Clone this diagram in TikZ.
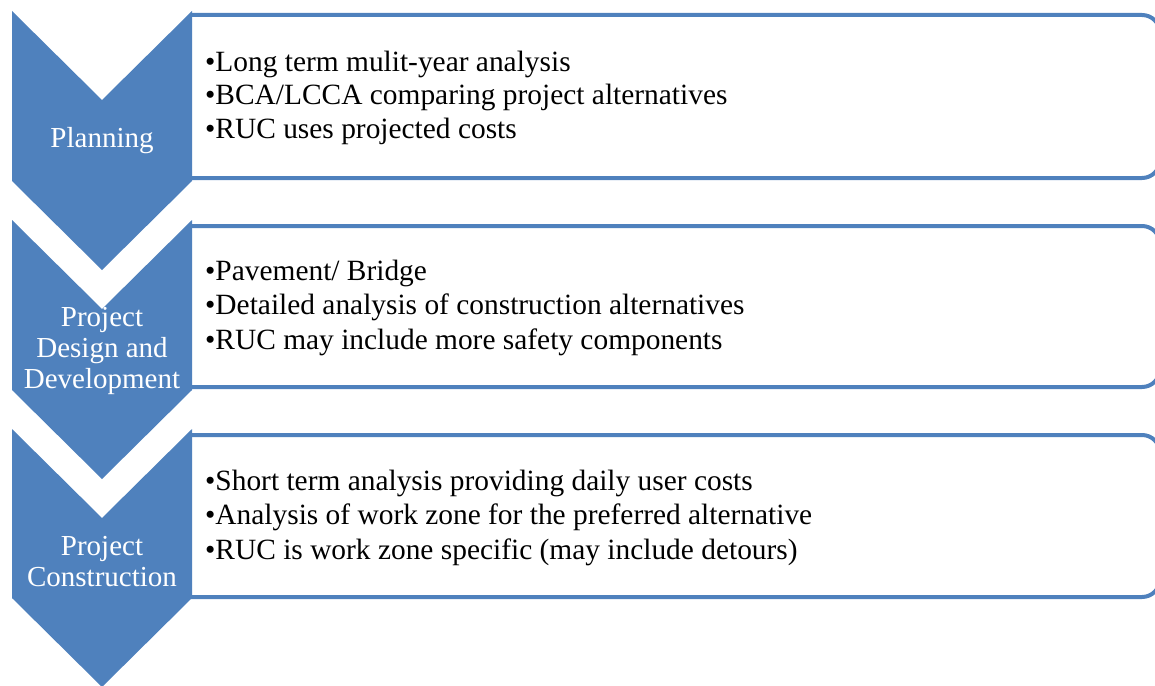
\documentclass[tikz,border=0pt]{standalone}
\usepackage{fontspec}
\setmainfont{Liberation Serif}
\newfontfamily\timesfont{Liberation Serif}
\definecolor{ofblue}{HTML}{4F81BD}
\begin{document}
\begin{tikzpicture}[x=1pt,y=-1pt,
  chev/.style={fill=ofblue,draw=none},
  infobox/.style={draw=ofblue,line width=4pt,fill=white,rounded corners=18pt},
  bul/.style={anchor=base west,inner sep=0pt,font=\timesfont\fontsize{29.4}{34}\selectfont},
  lab/.style={align=center,text=white,inner sep=0pt,font=\timesfont\fontsize{29}{31}\selectfont}]
\useasboundingbox (0,0) rectangle (1155,685);
\begin{scope}
\clip (0,0) rectangle (1155,685);
% boxes (left side hidden behind chevrons)
\path[infobox] (190,15) -- (1160,15) -- (1160,178) -- (190,178);
\path[infobox] (190,226) -- (1160,226) -- (1160,387) -- (190,387);
\path[infobox] (190,435) -- (1160,435) -- (1160,597) -- (190,597);
% chevrons
\fill[chev] (12,11) -- (102,100) -- (192,11) -- (192,181) -- (102,270) -- (12,181) -- cycle;
\fill[chev] (12,220) -- (102,309) -- (192,220) -- (192,390) -- (102,479) -- (12,390) -- cycle;
\fill[chev] (12,429) -- (102,518) -- (192,429) -- (192,598) -- (102,687) -- (12,598) -- cycle;
\end{scope}
% chevron labels
\node[lab] (l1) at (102,141) {Planning};
\node[lab] (l2) at (102,351) {Project\\Design and\\Development};
\node[lab] (l3) at (102,562) {Project\\Construction};
% bullet texts
\node[bul] (a1) at (205,71) {•Long term mulit-year analysis};
\node[bul] (a2) at (205,104) {•BCA/LCCA comparing project alternatives};
\node[bul] (a3) at (205,138) {•RUC uses projected costs};
\node[bul] (b1) at (205,280) {•Pavement/ Bridge};
\node[bul] (b2) at (205,314) {•Detailed analysis of construction alternatives};
\node[bul] (b3) at (205,349) {•RUC may include more safety components};
\node[bul] (c1) at (205,490) {•Short term analysis providing daily user costs};
\node[bul] (c2) at (205,524) {•Analysis of work zone for the preferred alternative};
\node[bul] (c3) at (205,559) {•RUC is work zone specific (may include detours)};
\end{tikzpicture}
\end{document}
